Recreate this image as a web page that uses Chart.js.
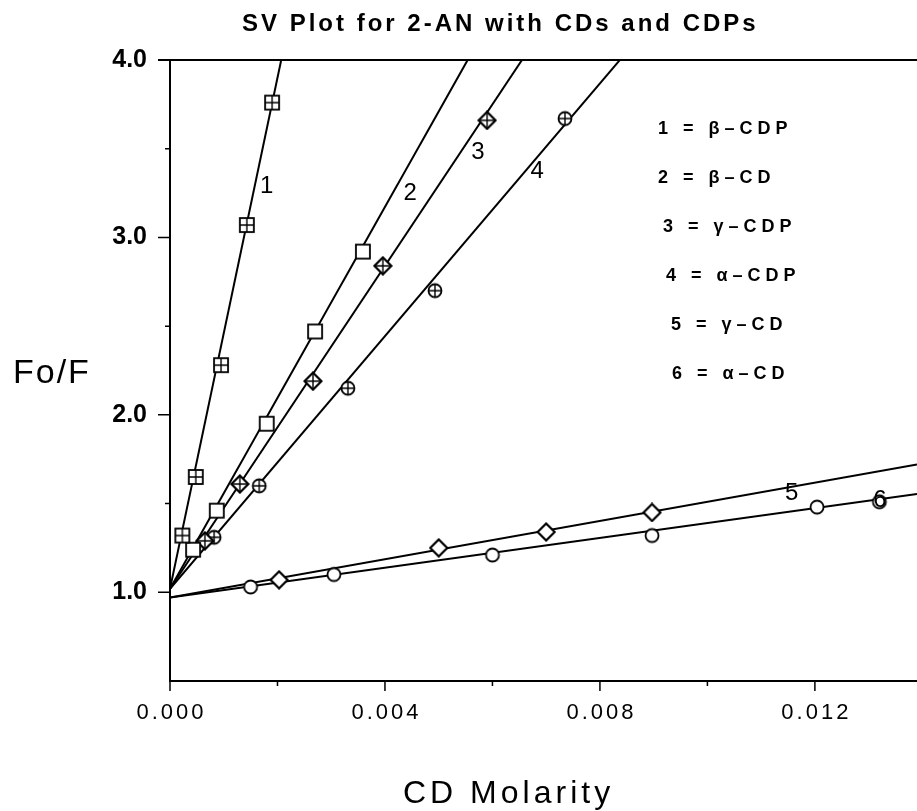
<!DOCTYPE html>
<html>
<head>
<meta charset="utf-8">
<script src="https://cdn.jsdelivr.net/npm/chart.js@4.4.0/dist/chart.umd.min.js"></script>
<style>
  html, body { margin: 0; padding: 0; background: #fff; }
  #svChart { display: block; }
</style>
</head>
<body>
<canvas id="svChart" width="917" height="811"></canvas>
<script>
// data (x = CD molarity, y = Fo/F)
const betaCDP_x = [0.00023, 0.00048, 0.00095, 0.00143, 0.0019];
const betaCDP_y = [1.32, 1.65, 2.28, 3.07, 3.76];

const betaCD_x = [0.00043, 0.00087, 0.0018, 0.0027, 0.00359];
const betaCD_y = [1.24, 1.46, 1.95, 2.47, 2.92];

const gammaCDP_x = [0.00065, 0.0013, 0.00266, 0.00396, 0.0059];
const gammaCDP_y = [1.29, 1.61, 2.19, 2.84, 3.66];

const alphaCDP_x = [0.00082, 0.00166, 0.00331, 0.00493, 0.00735];
const alphaCDP_y = [1.31, 1.60, 2.15, 2.70, 3.67];

const gammaCD_x = [0.00203, 0.005, 0.007, 0.00897];
const gammaCD_y = [1.07, 1.25, 1.34, 1.45];

const alphaCD_x = [0.0015, 0.00305, 0.006, 0.00897, 0.01204, 0.0132];
const alphaCD_y = [1.03, 1.10, 1.21, 1.32, 1.48, 1.51];

// fitted lines, series 1..6
const fitIntercepts = [1.02, 1.02, 1.02, 1.02, 0.97, 0.97];
const fitSlopes = [1440, 538, 455, 356, 54, 42];

const xTicks = [0, 0.004, 0.008, 0.012];
const xTickLabels = ['0.000', '0.004', '0.008', '0.012'];
const xMinorTicks = [0.002, 0.006, 0.010];
const yTicks = [1, 2, 3, 4];
const yTickLabels = ['1.0', '2.0', '3.0', '4.0'];
const yMinorTicks = [1.5, 2.5, 3.5];

const lineNames = ['1', '2', '3', '4', '5', '6'];
const lineNameX = [0.0018, 0.00447, 0.00573, 0.00683, 0.01157, 0.01321];
const lineNameY = [3.29, 3.25, 3.48, 3.37, 1.56, 1.52];

const legendLabels = ['1 = β–CDP', '2 = β–CD', '3 = γ–CDP', '4 = α–CDP', '5 = γ–CD', '6 = α–CD'];

const X_MIN = 0, X_MAX = 0.0139;
const Y_MIN = 0.5, Y_MAX = 4.0;

function makeMarker(kind) {
    const c = document.createElement('canvas');
    c.width = 20; c.height = 20;
    const ctx = c.getContext('2d');
    ctx.strokeStyle = '#000';
    ctx.lineWidth = 1.8;
    ctx.fillStyle = '#fff';
    const m = 10;
    if (kind === 'squarePlus' || kind === 'square') {
        ctx.fillRect(3, 3, 14, 14);
        ctx.strokeRect(3, 3, 14, 14);
        if (kind === 'squarePlus') {
            ctx.lineWidth = 1.4;
            ctx.beginPath();
            ctx.moveTo(m, 3); ctx.lineTo(m, 17);
            ctx.moveTo(3, m); ctx.lineTo(17, m);
            ctx.stroke();
        }
    } else if (kind === 'diamondPlus' || kind === 'diamond') {
        ctx.beginPath();
        ctx.moveTo(m, 1.5); ctx.lineTo(18.5, m); ctx.lineTo(m, 18.5); ctx.lineTo(1.5, m);
        ctx.closePath();
        ctx.fill();
        ctx.lineWidth = 2.2;
        ctx.stroke();
        if (kind === 'diamondPlus') {
            ctx.lineWidth = 1.4;
            ctx.beginPath();
            ctx.moveTo(m, 2); ctx.lineTo(m, 18);
            ctx.moveTo(2, m); ctx.lineTo(18, m);
            ctx.stroke();
        }
    } else {
        ctx.beginPath();
        ctx.arc(m, m, 6.5, 0, Math.PI * 2);
        ctx.fill();
        ctx.stroke();
        if (kind === 'circlePlus') {
            ctx.lineWidth = 1.4;
            ctx.beginPath();
            ctx.moveTo(m, 3.5); ctx.lineTo(m, 16.5);
            ctx.moveTo(3.5, m); ctx.lineTo(16.5, m);
            ctx.stroke();
        }
    }
    return c;
}

function toPoints(xs, ys) {
    return xs.map((x, i) => ({ x: x, y: ys[i] }));
}

function fitLine(i) {
    return [
        { x: X_MIN, y: fitIntercepts[i] + fitSlopes[i] * X_MIN },
        { x: X_MAX, y: fitIntercepts[i] + fitSlopes[i] * X_MAX }
    ];
}

const seriesX = [betaCDP_x, betaCD_x, gammaCDP_x, alphaCDP_x, gammaCD_x, alphaCD_x];
const seriesY = [betaCDP_y, betaCD_y, gammaCDP_y, alphaCDP_y, gammaCD_y, alphaCD_y];
const markerKinds = ['squarePlus', 'square', 'diamondPlus', 'circlePlus', 'diamond', 'circle'];

const datasets = [];
for (let i = 0; i < 6; i++) {
    datasets.push({
        type: 'line',
        label: 'fit ' + lineNames[i],
        data: fitLine(i),
        borderColor: '#000',
        borderWidth: 2,
        pointRadius: 0,
        fill: false,
        order: 2
    });
}
for (let i = 0; i < 6; i++) {
    datasets.push({
        type: 'scatter',
        label: legendLabels[i],
        data: toPoints(seriesX[i], seriesY[i]),
        pointStyle: makeMarker(markerKinds[i]),
        order: 1
    });
}

const FONT = '"Liberation Sans", Arial, Helvetica, sans-serif';

const decorPlugin = {
    id: 'decor',
    afterDraw(chart) {
        const ctx = chart.ctx;
        const xs = chart.scales.x, ys = chart.scales.y;
        const area = chart.chartArea;
        ctx.save();
        ctx.strokeStyle = '#000';
        ctx.fillStyle = '#000';

        // top frame line
        ctx.lineWidth = 2;
        ctx.beginPath();
        ctx.moveTo(area.left - 12, area.top);
        ctx.lineTo(area.right, area.top);
        ctx.stroke();

        // tick marks
        ctx.lineWidth = 1.5;
        ctx.beginPath();
        xTicks.forEach(v => { const p = xs.getPixelForValue(v); ctx.moveTo(p, area.bottom); ctx.lineTo(p, area.bottom + 10); });
        xMinorTicks.forEach(v => { const p = xs.getPixelForValue(v); ctx.moveTo(p, area.bottom); ctx.lineTo(p, area.bottom + 5); });
        yTicks.forEach(v => { const p = ys.getPixelForValue(v); ctx.moveTo(area.left, p); ctx.lineTo(area.left - 12, p); });
        yMinorTicks.forEach(v => { const p = ys.getPixelForValue(v); ctx.moveTo(area.left, p); ctx.lineTo(area.left - 5, p); });
        ctx.stroke();

        // x tick labels (spaced out like the original)
        ctx.textAlign = 'center';
        ctx.textBaseline = 'middle';
        ctx.font = '22px ' + FONT;
        ctx.letterSpacing = '3px';
        xTicks.forEach((v, i) => {
            ctx.fillText(xTickLabels[i], xs.getPixelForValue(v) + 1.5, area.bottom + 32);
        });

        // title and axis titles
        ctx.textAlign = 'left';
        ctx.font = 'bold 24px ' + FONT;
        ctx.fillText('SV Plot for 2-AN with CDs and CDPs', 242, 24);
        ctx.font = '32px ' + FONT;
        ctx.letterSpacing = '4px';
        ctx.fillText('CD Molarity', 403, 794);
        ctx.font = '34px ' + FONT;
        ctx.letterSpacing = '2px';
        ctx.fillText('Fo/F', 13, 374);

        // line numbers
        ctx.textAlign = 'center';
        ctx.letterSpacing = '0px';
        ctx.font = '24px ' + FONT;
        lineNames.forEach((t, i) => {
            ctx.fillText(t, xs.getPixelForValue(lineNameX[i]), ys.getPixelForValue(lineNameY[i]));
        });

        // legend text
        ctx.textAlign = 'left';
        ctx.font = 'bold 18px ' + FONT;
        ctx.letterSpacing = '5px';
        const legendLeft = [658, 658, 663, 666, 671, 672];
        const legendTop = 129, legendStep = 49;
        legendLabels.forEach((t, i) => {
            ctx.fillText(t, legendLeft[i], legendTop + i * legendStep);
        });
        ctx.restore();
    }
};

new Chart(document.getElementById('svChart'), {
    data: { datasets: datasets },
    options: {
        responsive: false,
        animation: false,
        layout: { autoPadding: false, padding: { top: 60, right: 0, bottom: 0, left: 0 } },
        plugins: {
            legend: { display: false },
            title: { display: false },
            tooltip: { enabled: false }
        },
        scales: {
            x: {
                type: 'linear',
                min: X_MIN,
                max: X_MAX,
                afterFit: s => { s.height = 130; },
                afterBuildTicks: s => { s.ticks = xTicks.map(v => ({ value: v })); },
                grid: { display: false },
                border: { display: true, color: '#000', width: 2 },
                ticks: { display: false }
            },
            y: {
                type: 'linear',
                min: Y_MIN,
                max: Y_MAX,
                afterFit: s => { s.width = 170; },
                afterBuildTicks: s => { s.ticks = yTicks.map(v => ({ value: v })); },
                grid: { display: false },
                border: { display: true, color: '#000', width: 2 },
                ticks: {
                    padding: 15,
                    color: '#000',
                    font: { family: FONT, size: 25, weight: 'bold' },
                    callback: (v, i) => yTickLabels[i]
                }
            }
        }
    },
    plugins: [decorPlugin]
});
</script>
</body>
</html>
